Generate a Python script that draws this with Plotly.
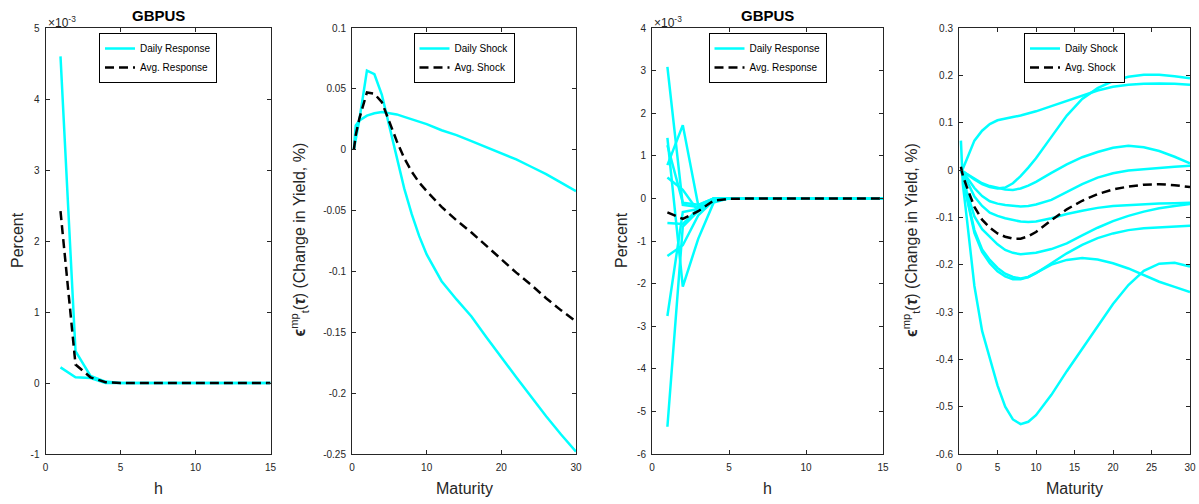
import plotly.graph_objects as go

# ---------------- data ----------------
# Panel 1 (GBPUS, daily responses, horizon h)
h1 = [1, 2, 3, 4, 5, 6, 7, 8, 9, 10, 11, 12, 13, 14, 15]
p1_resp_a = [4.6e-3, 0.45e-3, 0.10e-3, 0.02e-3, 0.0, 0.0, 0.0, 0.0, 0.0, 0.0, 0.0, 0.0, 0.0, 0.0, 0.0]
p1_resp_b = [0.22e-3, 0.08e-3, 0.07e-3, 0.0, 0.0, 0.0, 0.0, 0.0, 0.0, 0.0, 0.0, 0.0, 0.0, 0.0, 0.0]
p1_avg = [2.42e-3, 0.26e-3, 0.08e-3, 0.01e-3, 0.0, 0.0, 0.0, 0.0, 0.0, 0.0, 0.0, 0.0, 0.0, 0.0, 0.0]

# Panel 2 (shocks across maturities)
mat = [0.25, 0.5, 1, 2, 3, 4, 5, 6, 7, 8, 9, 10, 12, 14, 16, 18, 20, 22, 24, 26, 28, 30]
p2_shock_a = [0.0, 0.008, 0.025, 0.065, 0.062, 0.045, 0.019, -0.007, -0.032, -0.053, -0.071, -0.086,
              -0.108, -0.123, -0.137, -0.154, -0.171, -0.187, -0.203, -0.219, -0.234, -0.248]
p2_shock_b = [0.0, 0.020, 0.024, 0.028, 0.030, 0.031, 0.030, 0.029, 0.027, 0.025, 0.023, 0.021,
              0.016, 0.012, 0.007, 0.002, -0.003, -0.008, -0.014, -0.020, -0.027, -0.034]
p2_avg = [0.0, 0.012, 0.026, 0.047, 0.046, 0.039, 0.023, 0.007, -0.007, -0.018, -0.027, -0.034,
          -0.047, -0.058, -0.068, -0.079, -0.090, -0.101, -0.111, -0.122, -0.132, -0.141]

# Panel 3 (GBPUS, daily responses, horizon h)
h3 = [1, 2, 3, 4, 5, 6, 7, 8, 9, 10, 11, 12, 13, 14, 15]
p3_resp_1 = [3.09e-3, -0.15e-3, -0.20e-3, -0.02e-3, 0.0, 0.0, 0.0, 0.0, 0.0, 0.0, 0.0, 0.0, 0.0, 0.0, 0.0]
p3_resp_2 = [1.42e-3, -2.07e-3, -0.95e-3, -0.10e-3, 0.0, 0.0, 0.0, 0.0, 0.0, 0.0, 0.0, 0.0, 0.0, 0.0, 0.0]
p3_resp_3 = [1.25e-3, -0.10e-3, -0.15e-3, 0.0, 0.0, 0.0, 0.0, 0.0, 0.0, 0.0, 0.0, 0.0, 0.0, 0.0, 0.0]
p3_resp_4 = [0.78e-3, 1.72e-3, -0.16e-3, 0.0, 0.0, 0.0, 0.0, 0.0, 0.0, 0.0, 0.0, 0.0, 0.0, 0.0, 0.0]
p3_resp_5 = [0.49e-3, 0.20e-3, -0.30e-3, -0.05e-3, 0.0, 0.0, 0.0, 0.0, 0.0, 0.0, 0.0, 0.0, 0.0, 0.0, 0.0]
p3_resp_6 = [-0.58e-3, -0.60e-3, -0.25e-3, 0.0, 0.0, 0.0, 0.0, 0.0, 0.0, 0.0, 0.0, 0.0, 0.0, 0.0, 0.0]
p3_resp_7 = [-1.35e-3, -1.10e-3, -0.40e-3, -0.05e-3, 0.0, 0.0, 0.0, 0.0, 0.0, 0.0, 0.0, 0.0, 0.0, 0.0, 0.0]
p3_resp_8 = [-2.76e-3, -0.32e-3, -0.25e-3, 0.0, 0.0, 0.0, 0.0, 0.0, 0.0, 0.0, 0.0, 0.0, 0.0, 0.0, 0.0]
p3_resp_9 = [-5.36e-3, -0.66e-3, -0.30e-3, 0.0, 0.0, 0.0, 0.0, 0.0, 0.0, 0.0, 0.0, 0.0, 0.0, 0.0, 0.0]
p3_avg = [-0.33e-3, -0.48e-3, -0.30e-3, -0.05e-3, -0.01e-3, 0.0, 0.0, 0.0, 0.0, 0.0, 0.0, 0.0, 0.0, 0.0, 0.0]

# Panel 4 (shocks across maturities)
p4_shock_a = [0.0, -0.003, -0.010, -0.020, -0.030, -0.036, -0.039, -0.037, -0.028, -0.013, 0.005, 0.025,
              0.070, 0.115, 0.150, 0.173, 0.188, 0.197, 0.201, 0.201, 0.198, 0.194]
p4_shock_b = [0.0, 0.003, 0.022, 0.062, 0.083, 0.097, 0.105, 0.109, 0.112, 0.115, 0.119, 0.124,
              0.135, 0.146, 0.157, 0.168, 0.176, 0.180, 0.182, 0.183, 0.182, 0.180]
p4_shock_c = [0.0, -0.003, -0.008, -0.018, -0.028, -0.034, -0.038, -0.041, -0.042, -0.039, -0.033, -0.025,
              -0.006, 0.012, 0.027, 0.038, 0.047, 0.051, 0.048, 0.040, 0.028, 0.014]
p4_shock_d = [0.0, -0.005, -0.015, -0.038, -0.055, -0.066, -0.071, -0.074, -0.076, -0.077, -0.076, -0.073,
              -0.063, -0.046, -0.030, -0.016, -0.007, -0.001, 0.002, 0.005, 0.007, 0.009]
p4_shock_e = [0.0, -0.007, -0.022, -0.056, -0.076, -0.090, -0.097, -0.102, -0.106, -0.109, -0.110, -0.109,
              -0.102, -0.093, -0.086, -0.080, -0.076, -0.074, -0.072, -0.071, -0.070, -0.069]
p4_shock_f = [0.0, -0.010, -0.045, -0.098, -0.125, -0.141, -0.157, -0.169, -0.175, -0.178, -0.177, -0.175,
              -0.167, -0.155, -0.138, -0.122, -0.108, -0.097, -0.088, -0.081, -0.076, -0.072]
p4_shock_g = [0.0, -0.012, -0.055, -0.127, -0.168, -0.190, -0.207, -0.219, -0.226, -0.229, -0.226, -0.218,
              -0.197, -0.176, -0.158, -0.144, -0.134, -0.127, -0.123, -0.121, -0.119, -0.118]
p4_shock_h = [0.0, -0.012, -0.058, -0.133, -0.173, -0.197, -0.214, -0.225, -0.231, -0.231, -0.226, -0.217,
              -0.200, -0.190, -0.186, -0.189, -0.197, -0.208, -0.222, -0.236, -0.247, -0.258]
p4_shock_i = [0.062, -0.030, -0.100, -0.245, -0.340, -0.395, -0.455, -0.500, -0.527, -0.537, -0.532, -0.518,
              -0.475, -0.425, -0.378, -0.330, -0.283, -0.243, -0.213, -0.198, -0.196, -0.204]
p4_avg = [0.007, -0.012, -0.035, -0.078, -0.105, -0.122, -0.134, -0.141, -0.145, -0.145, -0.140, -0.131,
          -0.106, -0.083, -0.065, -0.051, -0.041, -0.035, -0.031, -0.030, -0.032, -0.036]

# tick labels
p1_xticks = [0, 5, 10, 15]
p1_yticks = [-1, 0, 1, 2, 3, 4, 5]
p2_xticks = [0, 10, 20, 30]
p2_yticks = [-0.25, -0.2, -0.15, -0.1, -0.05, 0, 0.05, 0.1]
p2_yticktext = ["-0.25", "-0.2", "-0.15", "-0.1", "-0.05", "0", "0.05", "0.1"]
p3_xticks = [0, 5, 10, 15]
p3_yticks = [-6, -5, -4, -3, -2, -1, 0, 1, 2, 3, 4]
p4_xticks = [0, 5, 10, 15, 20, 25, 30]
p4_yticks = [-0.6, -0.5, -0.4, -0.3, -0.2, -0.1, 0, 0.1, 0.2, 0.3]
p4_yticktext = ["-0.6", "-0.5", "-0.4", "-0.3", "-0.2", "-0.1", "0", "0.1", "0.2", "0.3"]

EXP = 1e-3  # axis exponent shown as x10^-3

# ---------------- layout geometry ----------------
W, H = 1199, 504           # browser window == figure (page margin removed below)
FONT = "Liberation Sans, Arial, Helvetica, sans-serif"
AX = "#262626"
CYAN = "#00FFFF"
TOP, BOT = 28, 454
panels_px = [(45.5, 270.5), (352, 576), (652, 883), (959, 1190)]


def fx(p):
    return p / W


def fy(p):
    return 1 - p / H


fig = go.Figure()

LW = 2.5
DASH = "9px,5px"


def add_lines(xs, ys_list, avg, idx, daily_name, avg_name, scale=1.0):
    xa = "x" if idx == 1 else f"x{idx}"
    ya = "y" if idx == 1 else f"y{idx}"
    lg = "legend" if idx == 1 else f"legend{idx}"
    for k, ys in enumerate(ys_list):
        fig.add_trace(go.Scatter(
            x=xs, y=[v / scale for v in ys], mode="lines", xaxis=xa, yaxis=ya,
            line=dict(color=CYAN, width=LW), name=daily_name,
            showlegend=(k == 0), legend=lg, hoverinfo="skip"))
    fig.add_trace(go.Scatter(
        x=xs, y=[v / scale for v in avg], mode="lines", xaxis=xa, yaxis=ya,
        line=dict(color="black", width=LW, dash=DASH), name=avg_name,
        showlegend=True, legend=lg, hoverinfo="skip"))


add_lines(h1, [p1_resp_a, p1_resp_b], p1_avg, 1, "Daily Response", "Avg. Response", EXP)
add_lines(mat, [p2_shock_a, p2_shock_b], p2_avg, 2, "Daily Shock", "Avg. Shock")
add_lines(h3, [p3_resp_1, p3_resp_2, p3_resp_3, p3_resp_4, p3_resp_5, p3_resp_6,
               p3_resp_7, p3_resp_8, p3_resp_9], p3_avg, 3, "Daily Response", "Avg. Response", EXP)
add_lines(mat, [p4_shock_a, p4_shock_b, p4_shock_c, p4_shock_d, p4_shock_e, p4_shock_f,
                p4_shock_g, p4_shock_h, p4_shock_i], p4_avg, 4, "Daily Shock", "Avg. Shock")

common = dict(showline=True, linecolor=AX, linewidth=1, mirror="ticks", ticks="inside",
              ticklen=4, tickwidth=1, tickcolor=AX, showgrid=False, zeroline=False,
              automargin=False,
              tickfont=dict(family=FONT, size=10, color=AX), fixedrange=True)

xranges = [[0, 15], [0, 30], [0, 15], [0, 30]]
yranges = [[-1, 5], [-0.25, 0.1], [-6, 4], [-0.6, 0.3]]
xticks = [p1_xticks, p2_xticks, p3_xticks, p4_xticks]
yticks = [p1_yticks, p2_yticks, p3_yticks, p4_yticks]
yticktexts = [[str(v) for v in p1_yticks], p2_yticktext, [str(v) for v in p3_yticks], p4_yticktext]

layout = {}
for i in range(4):
    n = "" if i == 0 else str(i + 1)
    l, r = panels_px[i]
    layout["xaxis" + n] = dict(common, domain=[fx(l), fx(r)], range=xranges[i],
                                tickmode="array", tickvals=xticks[i],
                                ticktext=[str(v) for v in xticks[i]],
                                ticklabelstandoff=4, anchor="y" + n)
    layout["yaxis" + n] = dict(common, domain=[fy(BOT), fy(TOP)], range=yranges[i],
                                tickmode="array", tickvals=yticks[i], ticktext=yticktexts[i],
                                ticklabelstandoff=3, anchor="x" + n)
    lgkey = "legend" + n
    layout[lgkey] = dict(x=fx((l + r) / 2), xanchor="center", y=fy(33), yanchor="top",
                         bgcolor="white", bordercolor="black", borderwidth=1,
                         font=dict(family=FONT, size=10, color="black"),
                         tracegroupgap=0)

fig.update_layout(**layout)

ann = []
# titles
for (l, r) in (panels_px[0], panels_px[2]):
    ann.append(dict(text="GBPUS", x=fx((l + r) / 2), y=fy(15), xref="paper", yref="paper",
                    showarrow=False, xanchor="center", yanchor="middle",
                    font=dict(family=FONT, size=15, color="black", weight="bold")))
    ann.append(dict(text="\u00d710<sup>-3</sup>", x=fx(l), y=fy(32), xref="paper", yref="paper",
                    showarrow=False, xanchor="left", yanchor="bottom",
                    font=dict(family=FONT, size=12, color=AX)))
# x labels
xlabels = ["h", "Maturity", "h", "Maturity"]
for (l, r), t in zip(panels_px, xlabels):
    ann.append(dict(text=t, x=fx((l + r) / 2), y=fy(488), xref="paper", yref="paper",
                    showarrow=False, xanchor="center", yanchor="middle",
                    font=dict(family=FONT, size=16, color=AX)))
# y labels
eps_label = "<b>\u03f5</b><sup>mp</sup><sub>t</sub>(<b><i>\u03c4</i></b>) (Change in Yield, %)"
ylabels = [("Percent", 17), (eps_label, 299.5), ("Percent", 621), (eps_label, 911)]
for t, xp in ylabels:
    ann.append(dict(text=t, x=fx(xp), y=fy(240), xref="paper", yref="paper",
                    showarrow=False, xanchor="center", yanchor="middle", textangle=-90,
                    font=dict(family=FONT, size=16, color=AX)))

fig.update_layout(
    width=W, height=H, margin=dict(l=0, r=0, t=0, b=0),
    paper_bgcolor="white", plot_bgcolor="white",
    annotations=ann, font=dict(family=FONT, size=12),
)

# page has no margin, so the figure fills the window exactly
fig.write_html(
    "out.html",
    config={"displayModeBar": False},
    post_script="document.body.style.margin='0';document.documentElement.style.overflow='hidden';",
)
